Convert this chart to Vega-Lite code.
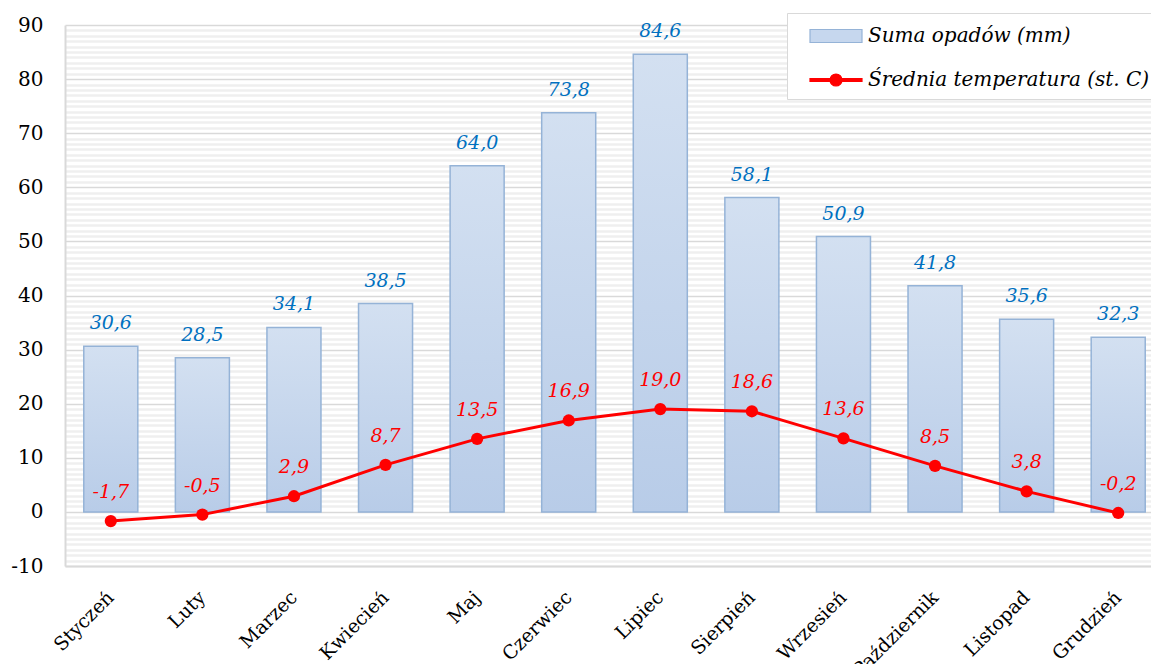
{
  "$schema": "https://vega.github.io/schema/vega-lite/v6.json",
  "autosize": "none",
  "width": 1099,
  "height": 541,
  "padding": {"left": 65, "top": 25, "right": 0, "bottom": 98},
  "background": "white",
  "config": {
    "locale": {"number": {"decimal": ",", "thousands": " ", "grouping": [3], "currency": ["", " zł"], "minus": "-"}},
    "view": {"stroke": null},
    "font": "DejaVu Serif",
    "legend": {
      "orient": "none",
      "legendX": 722,
      "legendY": -12,
      "fillColor": "#ffffff",
      "strokeColor": "#d9d9d9",
      "padding": 9,
      "labelFont": "DejaVu Serif",
      "labelFontStyle": "italic",
      "labelFontSize": 20,
      "labelColor": "#000000",
      "labelLimit": 400,
      "symbolSize": 676,
      "symbolOffset": 26,
      "labelOffset": 18,
      "rowPadding": 20,
      "symbolStrokeWidth": 1.2,
      "symbolOpacity": 1
    }
  },
  "data": {
    "values": [
      {"miesiac": "Styczeń", "opady": 30.6, "temp": -1.7},
      {"miesiac": "Luty", "opady": 28.5, "temp": -0.5},
      {"miesiac": "Marzec", "opady": 34.1, "temp": 2.9},
      {"miesiac": "Kwiecień", "opady": 38.5, "temp": 8.7},
      {"miesiac": "Maj", "opady": 64.0, "temp": 13.5},
      {"miesiac": "Czerwiec", "opady": 73.8, "temp": 16.9},
      {"miesiac": "Lipiec", "opady": 84.6, "temp": 19.0},
      {"miesiac": "Sierpień", "opady": 58.1, "temp": 18.6},
      {"miesiac": "Wrzesień", "opady": 50.9, "temp": 13.6},
      {"miesiac": "Październik", "opady": 41.8, "temp": 8.5},
      {"miesiac": "Listopad", "opady": 35.6, "temp": 3.8},
      {"miesiac": "Grudzień", "opady": 32.3, "temp": -0.2}
    ]
  },
  "encoding": {
    "x": {
      "field": "miesiac",
      "type": "nominal",
      "sort": null,
      "scale": {"paddingInner": 0.41, "paddingOuter": 0.205},
      "axis": {
        "title": null,
        "labelAngle": -45,
        "labelAlign": "right",
        "labelBaseline": "middle",
        "labelFont": "DejaVu Serif",
        "labelFontSize": 19,
        "labelColor": "#000000",
        "labelPadding": 28,
        "ticks": false,
        "tickSize": 0,
        "grid": false,
        "domainColor": "#d9d9d9",
        "domainWidth": 2
      }
    }
  },
  "layer": [
    {
      "mark": {
        "type": "bar",
        "fill": {
          "gradient": "linear", "x1": 0, "y1": 0, "x2": 0, "y2": 1,
          "stops": [{"offset": 0, "color": "#d3e0f1"}, {"offset": 1, "color": "#b8cce8"}]
        },
        "stroke": "#95b3d7",
        "strokeWidth": 1.5
      },
      "encoding": {
        "y": {
          "field": "opady",
          "type": "quantitative",
          "scale": {"domain": [-10, 90], "nice": false, "zero": false},
          "axis": {
            "title": null,
            "values": [-10,-9,-8,-7,-6,-5,-4,-3,-2,-1,0,1,2,3,4,5,6,7,8,9,10,11,12,13,14,15,16,17,18,19,20,21,22,23,24,25,26,27,28,29,30,31,32,33,34,35,36,37,38,39,40,41,42,43,44,45,46,47,48,49,50,51,52,53,54,55,56,57,58,59,60,61,62,63,64,65,66,67,68,69,70,71,72,73,74,75,76,77,78,79,80,81,82,83,84,85,86,87,88,89,90],
            "tickCount": 101,
            "labelExpr": "datum.value % 10 === 0 ? datum.label : ''",
            "labelOverlap": false,
            "labelBound": false,
            "labelFont": "DejaVu Serif",
            "labelFontSize": 20,
            "labelColor": "#000000",
            "labelPadding": 22,
            "ticks": false,
            "tickSize": 0,
            "grid": true,
            "gridColor": {"condition": {"test": "datum.value % 10 === 0", "value": "#d9d9d9"}, "value": "#efefef"},
            "gridWidth": {"condition": {"test": "datum.value % 10 === 0", "value": 1.5}, "value": 2.5},
            "domainColor": "#d9d9d9",
            "domainWidth": 2
          }
        }
      }
    },
    {
      "mark": {"type": "text", "font": "DejaVu Serif", "fontStyle": "italic", "fontSize": 19, "color": "#0070c0", "baseline": "middle", "dy": -23},
      "encoding": {
        "y": {"field": "opady", "type": "quantitative", "title": null},
        "text": {"field": "opady", "type": "quantitative", "format": ".1f"}
      }
    },
    {
      "mark": {"type": "line", "strokeWidth": 3, "stroke": "#ff0000"},
      "encoding": {
        "y": {"field": "temp", "type": "quantitative", "title": null}
      }
    },
    {
      "mark": {"type": "point", "filled": true, "color": "#ff0000", "size": 150, "opacity": 1},
      "encoding": {
        "y": {"field": "temp", "type": "quantitative", "title": null}
      }
    },
    {
      "mark": {"type": "text", "font": "DejaVu Serif", "fontStyle": "italic", "fontSize": 19, "color": "#ff0000", "baseline": "middle", "dy": -29},
      "encoding": {
        "y": {"field": "temp", "type": "quantitative", "title": null},
        "text": {"field": "temp", "type": "quantitative", "format": ".1f"}
      }
    },
    {
      "transform": [{"filter": "false"}],
      "mark": {"type": "point", "filled": true, "opacity": 1},
      "encoding": {
        "y": {"field": "temp", "type": "quantitative", "title": null},
        "shape": {
          "datum": "Suma opadów (mm)",
          "type": "nominal",
          "scale": {"domain": ["Suma opadów (mm)", "Średnia temperatura (st. C)"], "range": ["M-2,-0.5H2V0.5H-2Z", "M-2,-0.1H2V0.1H-2ZM-0.46,0A0.46,0.46 0 1,1 0.46,0A0.46,0.46 0 1,1 -0.46,0Z"]},
          "legend": {"title": null}
        },
        "fill": {
          "datum": "Suma opadów (mm)",
          "type": "nominal",
          "scale": {"domain": ["Suma opadów (mm)", "Średnia temperatura (st. C)"], "range": ["#c6d7ee", "#ff0000"]},
          "legend": {"title": null}
        },
        "stroke": {
          "datum": "Suma opadów (mm)",
          "type": "nominal",
          "scale": {"domain": ["Suma opadów (mm)", "Średnia temperatura (st. C)"], "range": ["#95b3d7", "#ff0000"]},
          "legend": {"title": null}
        }
      }
    }
  ]
}
